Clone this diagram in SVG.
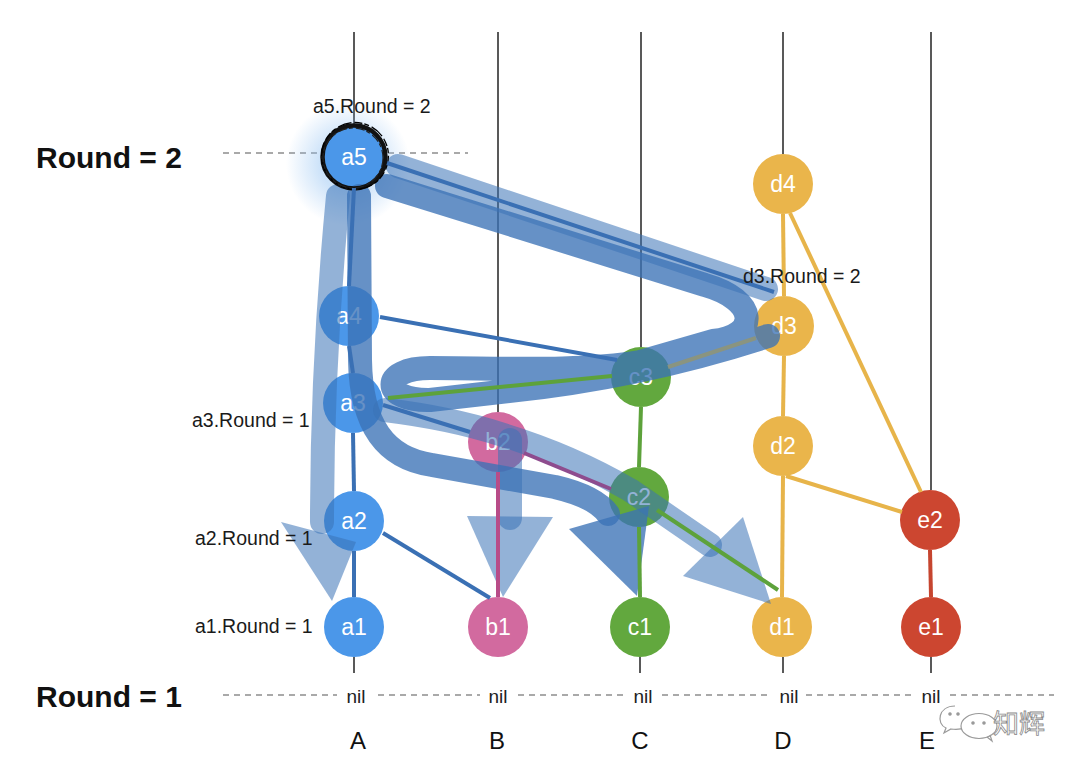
<svg xmlns="http://www.w3.org/2000/svg" width="1080" height="772" viewBox="0 0 1080 772">
<defs>
<radialGradient id="glow" cx="0.5" cy="0.5" r="0.5">
<stop offset="0.45" stop-color="#8FC0F2" stop-opacity="0.45"/>
<stop offset="1" stop-color="#8FC0F2" stop-opacity="0"/>
</radialGradient>
</defs>
<style>
.lbl{font-family:"Liberation Sans",Arial,sans-serif;font-size:19.5px;fill:#1a1a1a}
.big{font-family:"Liberation Sans",Arial,sans-serif;font-size:30px;font-weight:bold;fill:#111}
.nt{font-family:"Liberation Sans",Arial,sans-serif;font-size:23px;fill:#fff;text-anchor:middle}
.col{font-family:"Liberation Sans",Arial,sans-serif;font-size:24px;fill:#111;text-anchor:middle}
.nil{font-family:"Liberation Sans",Arial,sans-serif;font-size:19px;fill:#222;text-anchor:middle}
.vl{stroke:#222;stroke-width:1.5}
.dash{stroke:#555;stroke-width:1.2;stroke-dasharray:6 5}
.e{stroke-width:4;fill:none;stroke-linecap:butt}
.ea{stroke:#3A70B4}
.eb{stroke:#B84C88}
.ec{stroke:#5DA23B}
.ed{stroke:#E7B44A}
.ee{stroke:#C6452F}
.na{fill:#4B97E9}
.nb{fill:#D26A9F}
.nc{fill:#62A83E}
.nd{fill:#EAB54B}
.ne{fill:#CC4630}
.band{fill:none;stroke:#3B72B6;stroke-width:24;stroke-linecap:round;stroke-linejoin:round}
.lt{stroke-opacity:0.55}
.dk{stroke-opacity:0.78}
.hl{fill:#3B72B6;fill-opacity:0.55}
.hd{fill:#3B72B6;fill-opacity:0.78}
</style>
<rect width="1080" height="772" fill="#fff"/>

<g id="lanes">
<line class="vl" x1="354" y1="32" x2="354" y2="126"/>
<line class="vl" x1="498" y1="32" x2="498" y2="412"/>
<line class="vl" x1="641" y1="32" x2="641" y2="347"/>
<line class="vl" x1="783" y1="32" x2="783" y2="154"/>
<line class="vl" x1="931" y1="32" x2="931" y2="490"/>
<line class="vl" x1="354" y1="657" x2="354" y2="673"/>
<line class="vl" x1="640" y1="657" x2="640" y2="673"/>
<line class="vl" x1="783" y1="657" x2="783" y2="673"/>
<line class="vl" x1="931" y1="657" x2="931" y2="673"/>
<line class="dash" x1="223" y1="153" x2="468" y2="153"/>
<line class="dash" x1="223" y1="695" x2="337" y2="695"/>
<line class="dash" x1="378" y1="695" x2="480" y2="695"/>
<line class="dash" x1="518" y1="695" x2="628" y2="695"/>
<line class="dash" x1="662" y1="695" x2="770" y2="695"/>
<line class="dash" x1="806" y1="695" x2="912" y2="695"/>
<line class="dash" x1="950" y1="695" x2="1054" y2="695"/>
<text class="nil" x="356" y="703">nil</text>
<text class="nil" x="498" y="703">nil</text>
<text class="nil" x="643" y="703">nil</text>
<text class="nil" x="789" y="703">nil</text>
<text class="nil" x="931" y="703">nil</text>
<text class="col" x="358" y="749">A</text>
<text class="col" x="497" y="749">B</text>
<text class="col" x="640" y="749">C</text>
<text class="col" x="783" y="749">D</text>
<text class="col" x="927" y="749">E</text>
<text class="big" x="36" y="168">Round = 2</text>
<text class="big" x="36" y="707">Round = 1</text>
</g>

<circle cx="348" cy="164" r="62" fill="url(#glow)"/>

<g id="node-a5"><circle class="na" cx="354" cy="157" r="30"/><text class="nt" x="354" y="165">a5</text></g>
<g id="node-a4"><circle class="na" cx="349" cy="316" r="30"/><text class="nt" x="349" y="324">a4</text></g>
<g id="node-a3"><circle class="na" cx="353" cy="403" r="30"/><text class="nt" x="353" y="411">a3</text></g>
<g id="node-a2"><circle class="na" cx="354" cy="521" r="30"/><text class="nt" x="354" y="529">a2</text></g>
<g id="node-a1"><circle class="na" cx="354" cy="627" r="30"/><text class="nt" x="354" y="635">a1</text></g>
<g id="node-b2"><circle class="nb" cx="498" cy="442" r="30"/><text class="nt" x="498" y="450">b2</text></g>
<g id="node-b1"><circle class="nb" cx="498" cy="627" r="30"/><text class="nt" x="498" y="635">b1</text></g>
<g id="node-c3"><circle class="nc" cx="641" cy="377" r="30"/><text class="nt" x="641" y="385">c3</text></g>
<g id="node-c2"><circle class="nc" cx="639" cy="497" r="30"/><text class="nt" x="639" y="505">c2</text></g>
<g id="node-c1"><circle class="nc" cx="640" cy="627" r="30"/><text class="nt" x="640" y="635">c1</text></g>
<g id="node-d4"><circle class="nd" cx="783" cy="184" r="30"/><text class="nt" x="783" y="192">d4</text></g>
<g id="node-d3"><circle class="nd" cx="784" cy="326" r="30"/><text class="nt" x="784" y="334">d3</text></g>
<g id="node-d2"><circle class="nd" cx="783" cy="446" r="30"/><text class="nt" x="783" y="454">d2</text></g>
<g id="node-d1"><circle class="nd" cx="782" cy="627" r="30"/><text class="nt" x="782" y="635">d1</text></g>
<g id="node-e2"><circle class="ne" cx="930" cy="520" r="30"/><text class="nt" x="930" y="528">e2</text></g>
<g id="node-e1"><circle class="ne" cx="931" cy="627" r="30"/><text class="nt" x="931" y="635">e1</text></g>

<g id="paths">
<path class="band lt" d="M338 196 C328 300 322 400 322 522"/>
<polygon class="hl" points="281,522 356,542 332,601"/>
<path class="band dk" d="M359 196 L360 360 C361 425 385 458 432 465 L555 487 C585 494 600 503 608 514"/>
<polygon class="hd" points="569,529 649,506 637,596"/>
<path class="band lt" d="M398 166 L766 289"/>
<path class="band dk" d="M387 186 L705 285 C758 300 760 336 713 341 L640 362 C580 372 500 368 430 368 C380 368 380 401 430 400 L500 392 Q640 378 768 336"/>
<path class="band lt" d="M385 410 Q450 418 500 434 Q570 455 630 490 L710 545"/>
<polygon class="hl" points="683,576 743,517 771,604"/>
<path class="band lt" d="M510 440 L510 518"/>
<polygon class="hl" points="467,516 553,517 503,597"/>
</g>

<g id="a5-ring" fill="none">
<circle cx="354" cy="157" r="31.5" stroke="#111" stroke-width="4.5"/>
<circle cx="355" cy="156" r="33.5" stroke="#000" stroke-width="1.3" stroke-dasharray="14 3 8 2 5 3"/>
<circle cx="353" cy="158" r="30" stroke="#222" stroke-width="1.2" stroke-dasharray="9 2 4 3"/>
</g>

<g id="connectors">
<line class="e ea" x1="354" y1="188" x2="349" y2="286"/>
<line class="e ea" x1="349" y1="346" x2="353" y2="373"/>
<line class="e ea" x1="353" y1="433" x2="354" y2="491"/>
<line class="e ea" x1="354" y1="551" x2="354" y2="597"/>
<line class="e eb" x1="498" y1="472" x2="498" y2="597"/>
<line class="e ec" x1="641" y1="407" x2="639" y2="467"/>
<line class="e ec" x1="639" y1="527" x2="640" y2="597"/>
<line class="e ed" x1="783" y1="214" x2="784" y2="296"/>
<line class="e ed" x1="784" y1="356" x2="783" y2="416"/>
<line class="e ed" x1="783" y1="476" x2="782" y2="597"/>
<line class="e ee" x1="930" y1="550" x2="931" y2="597"/>
<line class="e ea" x1="387" y1="163" x2="774" y2="292"/>
<line class="e ea" x1="380" y1="317" x2="617" y2="360"/>
<line class="e ea" x1="383" y1="405" x2="470" y2="432"/>
<line class="e ea" x1="383" y1="533" x2="490" y2="598"/>
<line class="e ec" x1="388" y1="398" x2="612" y2="376"/>
<line class="e" stroke="#8A9480" x1="756" y1="338" x2="668" y2="367"/>
<line class="e" stroke="#8E4C8E" x1="524" y1="453" x2="611" y2="489"/>
<line class="e ec" x1="657" y1="510" x2="778" y2="590"/>
<line class="e ed" x1="790" y1="213" x2="921" y2="492"/>
<line class="e ed" x1="786" y1="476" x2="902" y2="512"/>
</g>

<g id="labels">
<text class="lbl" x="313" y="113">a5.Round = 2</text>
<text class="lbl" x="743" y="283">d3.Round = 2</text>
<text class="lbl" x="192" y="427">a3.Round = 1</text>
<text class="lbl" x="195" y="545">a2.Round = 1</text>
<text class="lbl" x="195" y="633">a1.Round = 1</text>
</g>

<g id="watermark" fill="none" stroke="#9a9a9a" stroke-width="1.2">
<path d="M955 706 C938 706 936 724 946 728 L944 733 L951 729 C957 730 962 729 965 727"/>
<ellipse cx="979" cy="726" rx="18" ry="12.5" fill="#fff"/>
<path d="M987 737 L992 741 L990 735"/>
<circle cx="950" cy="714" r="1.2" fill="#9a9a9a"/>
<circle cx="958" cy="714" r="1.2" fill="#9a9a9a"/>
<circle cx="973" cy="723" r="1.2" fill="#9a9a9a"/>
<circle cx="984" cy="723" r="1.2" fill="#9a9a9a"/>
<text x="993" y="733" font-family="'Noto Sans CJK SC',sans-serif" font-size="26" fill="#fff" stroke="#8a8a8a" stroke-width="0.8">知辉</text>
</g>
</svg>
